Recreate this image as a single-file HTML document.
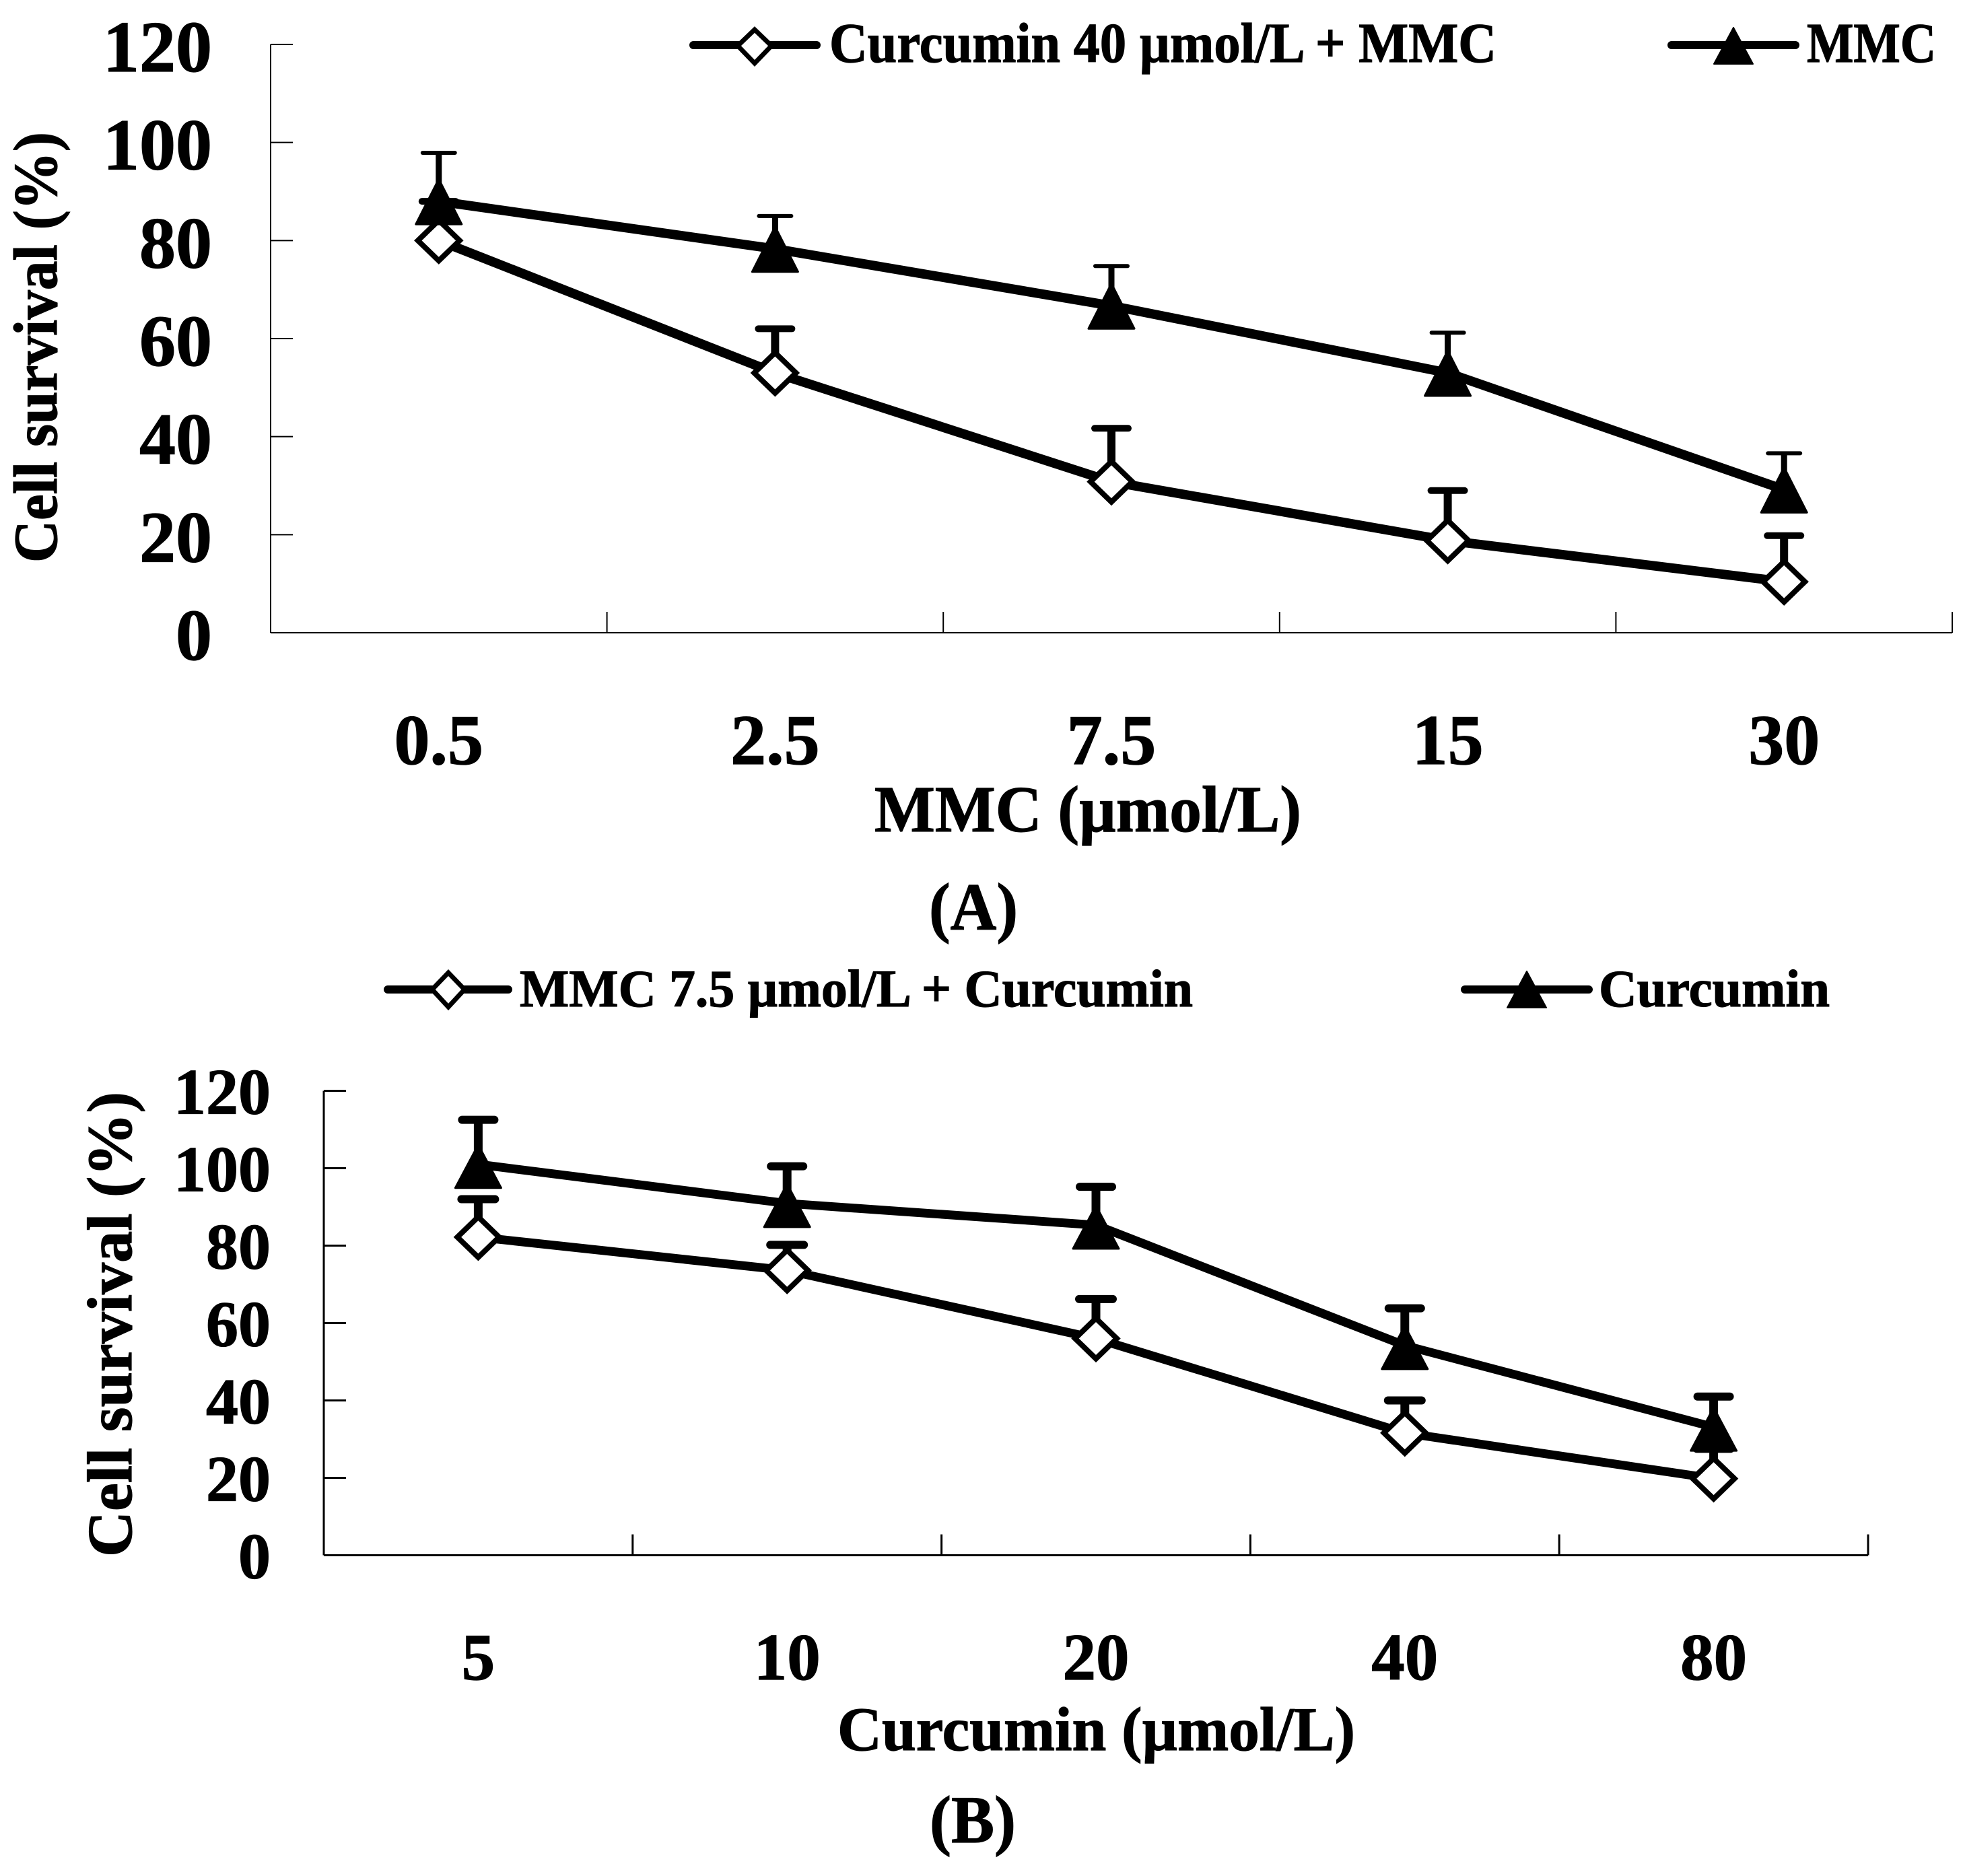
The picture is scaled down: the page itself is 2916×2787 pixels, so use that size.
<!DOCTYPE html>
<html lang="en">
<head>
<meta charset="utf-8">
<title>Cell survival charts</title>
<style>
html,body{margin:0;padding:0;background:#fff;width:2916px;height:2787px;overflow:hidden}
svg{display:block}
text{font-family:"Liberation Serif",serif;font-weight:bold;fill:#000;stroke:#000;stroke-width:1.2px}
</style>
</head>
<body>
<svg id="figure" xmlns="http://www.w3.org/2000/svg" width="2916" height="2787" viewBox="0 0 2916 2787">
  <rect width="2916" height="2787" fill="#fff"/>

  <text transform="translate(84,836) rotate(-90)" font-size="92" textLength="640" lengthAdjust="spacingAndGlyphs">Cell survival (%)</text>
  <text x="1299" y="1235" font-size="98" textLength="634" lengthAdjust="spacingAndGlyphs">MMC (µmol/L)</text>
  <text x="1380" y="1381" font-size="100" textLength="132" lengthAdjust="spacingAndGlyphs">(A)</text>
  <text x="1232" y="92" font-size="84" textLength="991" lengthAdjust="spacingAndGlyphs">Curcumin 40 µmol/L + MMC</text>
  <text x="2684" y="92" font-size="84" textLength="192" lengthAdjust="spacingAndGlyphs">MMC</text>

  <g>
    <line x1="1030" y1="67" x2="1213" y2="67" stroke="#000" stroke-width="12" stroke-linecap="round"/>
    <polygon points="1121,44 1146,68 1121,94 1096,68" fill="#fff" stroke="#000" stroke-width="7"/>
  </g>
  <g>
    <line x1="2483" y1="67" x2="2667" y2="67" stroke="#000" stroke-width="12" stroke-linecap="round"/>
    <polygon points="2575,41 2604,95 2546,95" fill="#000" stroke="#000" stroke-width="2" stroke-linejoin="round"/>
  </g>

  <text transform="translate(195,2313) rotate(-90)" font-size="94" textLength="691" lengthAdjust="spacingAndGlyphs">Cell survival (%)</text>
  <text x="1244" y="2600" font-size="92" textLength="769" lengthAdjust="spacingAndGlyphs">Curcumin (µmol/L)</text>
  <text x="1381" y="2737" font-size="100" textLength="128" lengthAdjust="spacingAndGlyphs">(B)</text>
  <text x="772" y="1495" font-size="78" textLength="1000" lengthAdjust="spacingAndGlyphs">MMC 7.5 µmol/L + Curcumin</text>
  <text x="2375" y="1495" font-size="78" textLength="343" lengthAdjust="spacingAndGlyphs">Curcumin</text>

  <g>
    <line x1="576" y1="1470" x2="755" y2="1470" stroke="#000" stroke-width="12" stroke-linecap="round"/>
    <polygon points="666,1445 690,1470 666,1496 642,1470" fill="#fff" stroke="#000" stroke-width="7"/>
  </g>
  <g>
    <line x1="2176" y1="1470" x2="2360" y2="1470" stroke="#000" stroke-width="12" stroke-linecap="round"/>
    <polygon points="2268,1443 2297,1497 2239,1497" fill="#000" stroke="#000" stroke-width="2" stroke-linejoin="round"/>
  </g>

  <g id="plots"></g>
</svg>

<script>
// Shared y-axis
const yTickLabels = [0, 20, 40, 60, 80, 100, 120];

// Panel A values
const aCategories = ['0.5', '2.5', '7.5', '15', '30'];
const aComboValues = [80, 53, 30.8, 18.8, 10.4];
const aComboUpper = [88, 62, 41.7, 29, 19.8];
const aSingleValues = [88, 78.3, 66.7, 53, 29.2];
const aSingleUpper = [97.9, 85, 74.8, 61.2, 36.6];

// Panel B values
const bCategories = ['5', '10', '20', '40', '80'];
const bComboValues = [82.2, 73.6, 56, 31.6, 19.8];
const bComboUpper = [92, 80.2, 66.2, 40, 27.5];
const bSingleValues = [101, 90.9, 85.3, 54.2, 33.1];
const bSingleUpper = [112.5, 100.5, 95.2, 63.8, 41];

const NS = 'http://www.w3.org/2000/svg';
const root = document.getElementById('plots');

function make(tag, attrs, parent) {
  const el = document.createElementNS(NS, tag);
  for (const k in attrs) el.setAttribute(k, attrs[k]);
  parent.appendChild(el);
  return el;
}

function drawPanel(p) {
  const xScale = i => p.left + (i + 0.5) * (p.right - p.left) / p.categories.length;
  const xEdge = i => p.left + i * (p.right - p.left) / p.categories.length;
  const yScale = v => p.bottom - v * (p.bottom - p.top) / 120;

  const axes = make('g', {}, root);
  
  
  const yAxis = make('line', {x1: p.left, y1: p.top, x2: p.left, y2: p.bottom, stroke: '#000', 'stroke-width': p.axisW}, axes);
  
  
  const xAxis = make('line', {x1: p.left, y1: p.bottom, x2: p.right, y2: p.bottom, stroke: '#000', 'stroke-width': p.axisW}, axes);
  
  

  yTickLabels.forEach(v => {
    const y = yScale(v);
    if (v > 0) {
      const t = make('line', {x1: p.left, y1: y, x2: p.left + 33, y2: y, stroke: '#000', 'stroke-width': p.axisW}, axes);
      
      
    }
    const label = make('text', {x: p.yLabelX, y: y + p.yLabelDy, 'text-anchor': 'end', 'font-size': p.yLabelSize}, axes);
    
    
    label.textContent = String(v);
  });

  for (let i = 1; i <= p.categories.length; i++) {
    const x = xEdge(i);
    const t = make('line', {x1: x, y1: p.bottom, x2: x, y2: p.bottom - 31, stroke: '#000', 'stroke-width': p.axisW}, axes);
    
    
  }
  p.categories.forEach((c, i) => {
    const label = make('text', {x: xScale(i), y: p.xLabelY, 'text-anchor': 'middle', 'font-size': p.xLabelSize}, axes);
    
    
    label.textContent = c;
  });

  // Combination series (open diamonds)
  const combo = make('g', {}, root);
  
  
  const comboLine = make('polyline', {points: p.comboValues.map((v, i) => xScale(i) + ',' + yScale(v)).join(' '), fill: 'none', stroke: '#000', 'stroke-width': p.lineW}, combo);
  
  
  p.comboValues.forEach((v, i) => {
    const x = xScale(i), y = yScale(v), yu = yScale(p.comboUpper[i]);
    const stem = make('line', {x1: x, y1: y, x2: x, y2: yu, stroke: '#000', 'stroke-width': p.comboStem}, combo);
    
    
    const cap = make('line', {x1: x - 25, y1: yu, x2: x + 25, y2: yu, stroke: '#000', 'stroke-width': p.comboCap, 'stroke-linecap': 'round'}, combo);
    
    
    const d = make('polygon', {points: [x, y - p.dH, x + p.dW, y, x, y + p.dH, x - p.dW, y].join(' '), fill: '#fff', stroke: '#000', 'stroke-width': 8}, combo);
    
    
  });

  // Single agent series (filled triangles)
  const single = make('g', {}, root);
  
  
  const singleLine = make('polyline', {points: p.singleValues.map((v, i) => xScale(i) + ',' + yScale(v)).join(' '), fill: 'none', stroke: '#000', 'stroke-width': p.lineW}, single);
  
  
  p.singleValues.forEach((v, i) => {
    const x = xScale(i), y = yScale(v), yu = yScale(p.singleUpper[i]);
    const stem = make('line', {x1: x, y1: y, x2: x, y2: yu, stroke: '#000', 'stroke-width': p.singleStem}, single);
    
    
    const cap = make('line', {x1: x - 24, y1: yu, x2: x + 24, y2: yu, stroke: '#000', 'stroke-width': p.singleCap, 'stroke-linecap': 'round'}, single);
    
    
    const t = make('polygon', {points: [x, y - p.triUp, x + 34, y + p.triDown, x - 34, y + p.triDown].join(' '), fill: '#000', stroke: '#000', 'stroke-width': 3, 'stroke-linejoin': 'round'}, single);
    
    
  });
}

drawPanel({
  id: 'panel-a', left: 402, right: 2900, top: 66, bottom: 940,
  categories: aCategories, comboValues: aComboValues, comboUpper: aComboUpper,
  singleValues: aSingleValues, singleUpper: aSingleUpper,
  axisW: 2, lineW: 14, comboStem: 12, comboCap: 10, singleStem: 9, singleCap: 6,
  dW: 31, dH: 30, triUp: 33, triDown: 34,
  yLabelX: 315, yLabelDy: 40, yLabelSize: 108, xLabelY: 1135, xLabelSize: 106
});

drawPanel({
  id: 'panel-b', left: 481, right: 2775, top: 1620.5, bottom: 2310.5,
  categories: bCategories, comboValues: bComboValues, comboUpper: bComboUpper,
  singleValues: bSingleValues, singleUpper: bSingleUpper,
  axisW: 3, lineW: 13, comboStem: 13, comboCap: 12, singleStem: 13, singleCap: 12,
  dW: 31, dH: 30, triUp: 29, triDown: 35,
  yLabelX: 402, yLabelDy: 34, yLabelSize: 96, xLabelY: 2495, xLabelSize: 99
});
</script>
</body>
</html>
